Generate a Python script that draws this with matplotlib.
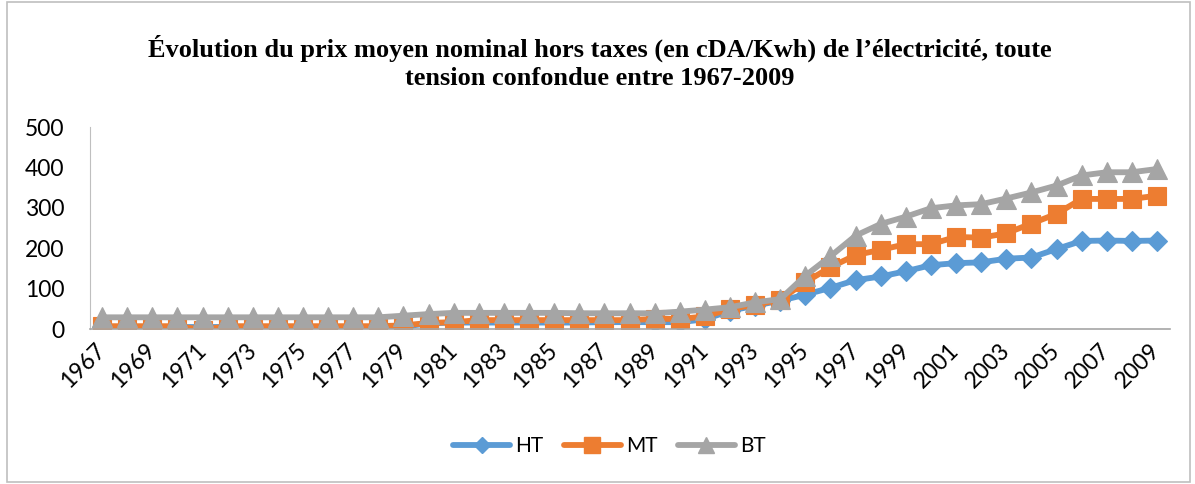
import numpy as np
import matplotlib
matplotlib.use("Agg")
import matplotlib.pyplot as plt
from matplotlib.patches import Rectangle
from matplotlib.lines import Line2D

# data (cDA/Kwh)
years = list(range(1967, 2010))
ht = [5, 5, 5, 5, 5, 5, 5, 5, 5, 5, 5, 5, 6,
      14, 16, 16, 16, 16, 16, 16, 17, 17, 17, 17, 24, 45,
      58, 70, 85, 102, 121, 130, 143, 158, 163, 165, 174, 177,
      198, 218, 219, 218, 219]
mt = [7, 7, 7, 7, -2, 7, 7, 7, 7, 7, 7, 7, 9,
      15, 17, 22, 22, 22, 22, 22, 22, 22, 25, 25, 31, 50,
      60, 73, 116, 153, 183, 196, 210, 210, 228, 226, 237, 261,
      285, 322, 322, 322, 330]
bt = [29, 29, 29, 29, 29, 29, 29, 29, 29, 29, 29, 29, 33,
      37, 40, 40, 40, 40, 40, 39, 39, 39, 39, 43, 48, 54,
      66, 74, 132, 180, 231, 260, 278, 299, 306, 309, 323, 338,
      355, 380, 388, 388, 396]
series_names = ['HT', 'MT', 'BT']
colors = ['#5B9BD5', '#ED7D31', '#A5A5A5']
markers = ['D', 's', '^']
msizes = [10, 13.5, 14]

title = ("Évolution du prix moyen nominal hors taxes (en cDA/Kwh) de l’électricité, toute\n"
         "tension confondue entre 1967-2009")

fig = plt.figure(figsize=(11.95, 4.84), dpi=100)
ax = fig.add_axes([0.0749, 0.3202, 0.9038, 0.4174])

x = np.arange(len(years))
for vals, name, c, m, ms in zip([ht, mt, bt], series_names, colors, markers, msizes):
    ax.plot(x, vals, color=c, lw=4.2, marker=m, ms=ms, mfc=c, mec=c,
            mew=0.8, label=name, solid_capstyle='round')

ax.set_xlim(-0.5, len(years) - 0.5)
ax.set_ylim(0, 500)
ax.set_yticks([0, 100, 200, 300, 400, 500])
ax.set_xticks(x[::2])
ax.set_xticklabels([str(y) for y in years[::2]], rotation=45, ha='right',
                   va='center', rotation_mode='anchor')
ax.tick_params(axis='y', length=0, labelsize=16.5, pad=18)
ax.tick_params(axis='x', length=0, labelsize=16.5, pad=13)
for lab in ax.get_xticklabels() + ax.get_yticklabels():
    lab.set_family('Lato')

for s in ['top', 'right']:
    ax.spines[s].set_visible(False)
ax.spines['left'].set_color('#BFBFBF')
ax.spines['bottom'].set_color('#A6A6A6')
ax.spines['bottom'].set_linewidth(1.2)

fig.text(0.502, 0.871, title, ha='center', va='center', family='Liberation Serif',
         fontweight='bold', fontsize=19, linespacing=1.3)

handles = [Line2D([], [], color=c, lw=4.2, marker=m, ms=ms * 0.85, mfc=c, mec=c,
                  solid_capstyle='round')
           for c, m, ms in zip(colors, markers, msizes)]
fig.legend(handles, series_names, loc='center', bbox_to_anchor=(0.51, 0.0785), ncol=3,
           frameon=False, handlelength=2.75, columnspacing=0.96, handletextpad=0.25,
           prop={'family': 'Lato', 'size': 15})

fig.patches.append(Rectangle((0.006, 0.004), 0.99, 0.992, transform=fig.transFigure,
                             fill=False, edgecolor='#BFBFBF', lw=1.2))

fig.savefig('out.png', dpi=100)
